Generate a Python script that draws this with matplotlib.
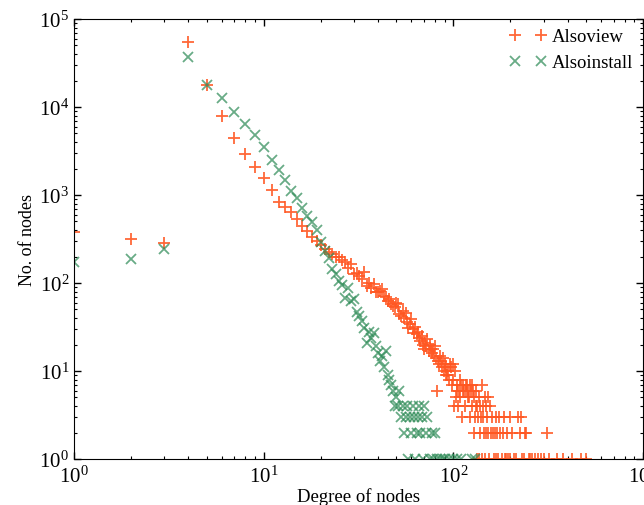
import matplotlib
matplotlib.use("Agg")
import matplotlib.pyplot as plt

# Degree distribution data
view_deg = [1, 2, 3, 4, 5, 6, 7, 8, 9, 10, 11, 12, 13, 14, 15, 16, 17, 18, 19, 20,
            21, 22, 23, 24, 25, 26, 27, 28, 29, 30, 31, 32, 33, 34, 35, 36, 37, 38, 39, 40,
            41, 42, 43, 44, 45, 46, 47, 48, 49, 50, 51, 52, 53, 54, 55, 56, 57, 58, 59, 60,
            61, 62, 63, 64, 65, 66, 67, 68, 69, 70, 71, 72, 73, 74, 75, 76, 77, 78, 79, 80,
            81, 82, 83, 84, 85, 86, 87, 88, 89, 90, 91, 92, 93, 94, 95, 96, 97, 98, 99, 100,
            101, 102, 103, 104, 105, 106, 107, 108, 109, 110, 111, 112, 113, 114, 115, 116,
            117, 118, 119, 120, 121, 122, 123, 124, 125, 126, 127, 128, 129, 130, 131, 132,
            133, 134, 135, 136, 137, 138, 139, 140, 141, 142, 143, 144, 145, 146, 147, 148,
            149, 150, 152, 153, 155, 156, 158, 160, 162, 163, 165, 167, 168, 170, 172, 175,
            177, 180, 182, 185, 187, 190, 192, 195, 198, 200, 205, 210, 215, 220, 225, 228,
            230, 235, 240, 243, 250, 255, 260, 270, 280, 290, 300, 310, 320, 350, 380, 420,
            470, 500]
view_cnt = [380, 316, 285, 55000, 18000, 7900, 4500, 2900, 2060, 1550, 1140, 840, 724, 636, 534,
            448, 393, 331, 300, 270, 243, 225, 214, 200, 196, 182, 175, 150, 164, 126, 130, 121,
            110, 132, 93, 100, 88, 97, 78, 80, 82, 85, 72, 69, 62, 66, 58, 55, 53, 60, 58, 44, 42,
            48, 40, 46, 36, 31, 34, 39, 30, 27, 32, 26, 28, 24, 22, 25, 20, 18, 21, 19, 23, 17, 20,
            18, 16, 18, 15, 19, 14, 6, 13, 12, 15, 13, 11, 14, 10, 12, 9, 11, 9, 10, 8, 12, 11, 7,
            12, 8, 4, 10, 5, 7, 6, 4, 6, 5, 8, 7, 3, 6, 7, 6, 4, 7, 6, 7, 5, 6, 5, 7, 3, 6, 7, 4,
            6, 2, 5, 3, 4, 6, 1, 4, 3, 5, 1, 4, 2, 3, 7, 1, 4, 3, 2, 5, 1, 2, 4, 3, 2, 5, 1, 4, 2,
            3, 2, 1, 2, 3, 1, 2, 1, 3, 2, 1, 2, 3, 1, 1, 2, 1, 3, 1, 2, 1, 1, 3, 2, 3, 1, 1, 2, 2,
            1, 1, 1, 1, 1, 1, 1, 2, 1, 1, 1, 1, 1, 1]

install_deg = [1, 2, 3, 4, 5, 6, 7, 8, 9, 10, 11, 12, 13, 14, 15, 16, 17, 18, 19, 20,
               21, 22, 23, 24, 25, 26, 27, 28, 29, 30, 31, 32, 33, 34, 35, 36, 37, 38, 39, 40,
               41, 42, 43, 44, 45, 46, 47, 48, 49, 50, 51, 52, 53, 54, 55, 56, 57, 58, 59, 60,
               61, 62, 63, 64, 65, 66, 67, 68, 69, 70, 72, 73, 75, 77, 78, 80, 82, 85, 88, 90,
               95, 100, 105, 110, 125, 130]
install_cnt = [173, 187, 243, 37000, 18000, 12500, 8850, 6400, 4800, 3500, 2500, 1940, 1490,
               1120, 917, 706, 582, 490, 403, 295, 233, 190, 144, 125, 106, 95, 67, 87, 62, 66,
               47, 42, 37, 31, 21, 28, 24, 27, 19, 16, 13, 15, 11, 17, 9, 8, 7, 6, 4, 5, 4, 6, 3,
               4, 2, 3, 4, 1, 3, 2, 4, 3, 1, 2, 3, 4, 2, 3, 1, 4, 2, 3, 1, 2, 1, 2, 1, 1, 1, 1,
               1, 1, 1, 1, 1, 1]

plt.rcParams['font.family'] = ['Liberation Serif', 'DejaVu Serif']
plt.rcParams['mathtext.fontset'] = 'stix'

fig = plt.figure(figsize=(6.44, 5.06), dpi=100)
ax = fig.add_axes([74 / 644, 46 / 506, 569 / 644, 440 / 506])

ax.plot(view_deg, view_cnt, linestyle='none', marker='+', color='#ff5722',
        markersize=8, markeredgewidth=1.3, alpha=0.9, label='Alsoview')
ax.plot(install_deg, install_cnt, linestyle='none', marker='x', color='#2e8b57',
        markersize=7, markeredgewidth=1.3, alpha=0.72, label='Alsoinstall')

ax.set_xscale('log')
ax.set_yscale('log')
ax.set_xlim(1, 1000)
ax.set_ylim(1, 1e5)

ax.set_xlabel('Degree of nodes', fontsize=13.5, labelpad=0)
ax.set_ylabel('No. of nodes', fontsize=13, labelpad=2)
ax.tick_params(which='both', direction='in', top=True, right=True, labelsize=15)
ax.tick_params(which='major', length=5, width=1)
ax.tick_params(which='minor', length=2.5, width=0.8)
ax.tick_params(axis='x', pad=5)

ax.legend(loc='upper right', frameon=False, numpoints=2, fontsize=13.5,
          handletextpad=0.3, borderaxespad=0.1, labelspacing=0.45)

fig.savefig('out.png', dpi=100)
